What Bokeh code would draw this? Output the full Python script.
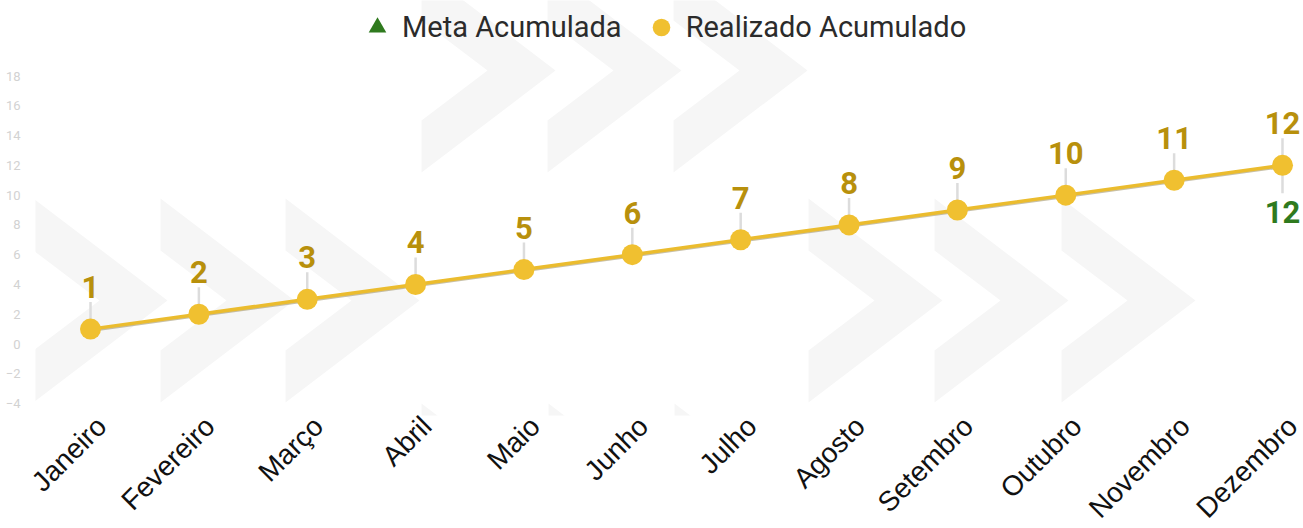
import math
from bokeh.plotting import figure
from bokeh.models import ColumnDataSource, FixedTicker, Legend, LegendItem, Range1d
from bokeh.core.properties import value
from bokeh.embed import file_html
from bokeh.resources import INLINE

# ---- data ----
meses = ["Janeiro", "Fevereiro", "Março", "Abril", "Maio", "Junho",
         "Julho", "Agosto", "Setembro", "Outubro", "Novembro", "Dezembro"]
meta_acumulada = [1, 2, 3, 4, 5, 6, 7, 8, 9, 10, 11, 12]
realizado_acumulado = [1, 2, 3, 4, 5, 6, 7, 8, 9, 10, 11, 12]
y_ticks = [-4, -2, 0, 2, 4, 6, 8, 10, 12, 14, 16, 18]

# ---- layout constants ----
FRAME_W, FRAME_H = 1268, 415
LEFT = 35
X0, X1 = -0.5076, 11.1938
Y0, Y1 = -4.803, 23.075
UPP = (Y1 - Y0) / FRAME_H          # data units per screen pixel (y)
XPP = (X1 - X0) / FRAME_W          # data units per screen pixel (x)

GOLD = "#F0C030"
LINE_GOLD = "#EBBC2E"
LABEL_GOLD = "#B8900C"
GREEN = "#2F7A1E"

idx = list(range(len(meses)))

p = figure(frame_width=FRAME_W, frame_height=FRAME_H,
           x_range=Range1d(X0, X1), y_range=Range1d(Y0, Y1),
           output_backend="svg", toolbar_location=None,
           min_border_left=LEFT, min_border_right=0,
           min_border_top=0, min_border_bottom=0)
p.outline_line_color = None
p.xgrid.visible = False
p.ygrid.visible = False
p.background_fill_color = "white"
p.border_fill_color = "white"

# ---- decorative background chevrons (screen-pixel geometry converted) ----
def px_x(px):
    return X0 + (px - LEFT) * XPP

def px_y(py):
    return Y1 - py * UPP

CH_W, CH_H, CH_T, CH_N = 134, 204, 52, 68
bands = [((421, 547, 673), 70), ((33, 160, 285), 300),
         ((808, 934, 1061), 300), ((421, 548, 674), 505)]
chev_xs, chev_ys = [], []
for lefts, cy in bands:
    for L in lefts:
        pts = [(L, cy - CH_H / 2), (L + CH_W, cy), (L, cy + CH_H / 2),
               (L, cy + CH_H / 2 - CH_T), (L + CH_W - CH_N, cy),
               (L, cy - CH_H / 2 + CH_T)]
        chev_xs.append([px_x(a) for a, b in pts])
        chev_ys.append([px_y(b) for a, b in pts])
p.patches(chev_xs, chev_ys, fill_color="#f6f6f6", line_color=None, level="underlay")

# ---- connector lines for labels ----
p.segment(x0=idx, y0=[v + 9 * UPP for v in realizado_acumulado],
          x1=idx, y1=[v + 27 * UPP for v in realizado_acumulado],
          line_color="#dcdcdc", line_width=2.5)
p.segment(x0=[idx[-1]], y0=[meta_acumulada[-1] - 9 * UPP],
          x1=[idx[-1]], y1=[meta_acumulada[-1] - 28 * UPP],
          line_color="#dcdcdc", line_width=2.5)

# ---- lines ----
p.line(idx, [v - 1.3 * UPP for v in meta_acumulada], line_color="#9a8c5c",
       line_width=3, line_alpha=0.55)
p.line(idx, realizado_acumulado, line_color=LINE_GOLD, line_width=3.5)

meta_r = p.scatter(idx, meta_acumulada, marker="triangle", size=12,
                   fill_color=GREEN, line_color=None)
real_r = p.scatter(idx, realizado_acumulado, marker="circle", size=21,
                   fill_color=GOLD, line_color=None)

# ---- data labels ----
p.text(x=idx, y=[v + 42 * UPP for v in realizado_acumulado],
       text=[str(v) for v in realizado_acumulado],
       text_align="center", text_baseline="alphabetic",
       text_font=value("Roboto"), text_font_style="bold",
       text_font_size="31px", text_color=LABEL_GOLD)
p.text(x=[idx[-1]], y=[meta_acumulada[-1] - 47 * UPP],
       text=[str(meta_acumulada[-1])],
       text_align="center", text_baseline="alphabetic",
       text_font=value("Roboto"), text_font_style="bold",
       text_font_size="31px", text_color=GREEN)

# ---- axes ----
LABEL_SHIFT = 11 * XPP
p.xaxis.ticker = FixedTicker(ticks=[i + LABEL_SHIFT for i in idx])
p.xaxis.major_label_overrides = {i + LABEL_SHIFT: m for i, m in zip(idx, meses)}
p.xaxis.major_label_orientation = math.pi / 4
p.xaxis.major_label_text_font = "Liberation Sans"
p.xaxis.major_label_text_font_size = "28px"
p.xaxis.major_label_text_color = "#111111"
p.xaxis.axis_line_color = None
p.xaxis.major_tick_line_color = None
p.xaxis.minor_tick_line_color = None
p.xaxis.major_tick_out = 0
p.xaxis.major_tick_in = 0
p.xaxis.major_label_standoff = 6

p.yaxis.ticker = FixedTicker(ticks=y_ticks)
p.yaxis.major_label_text_font = "Roboto"
p.yaxis.major_label_text_font_size = "13px"
p.yaxis.major_label_text_color = "#d2d2d2"
p.yaxis.axis_line_color = None
p.yaxis.major_tick_line_color = None
p.yaxis.minor_tick_line_color = None
p.yaxis.major_label_standoff = 9

# ---- legend ----
legend = Legend(items=[LegendItem(label="Meta Acumulada", renderers=[meta_r]),
                       LegendItem(label="Realizado Acumulado", renderers=[real_r])],
                orientation="horizontal", location=(320, 366),
                glyph_width=44, glyph_height=44, label_standoff=3, spacing=17,
                padding=0, margin=0, border_line_color=None,
                background_fill_alpha=0,
                label_text_font="Roboto", label_text_font_size="29px",
                label_text_color="#2b2b2b")
p.add_layout(legend)

open("out.html", "w").write(file_html(p, INLINE))
